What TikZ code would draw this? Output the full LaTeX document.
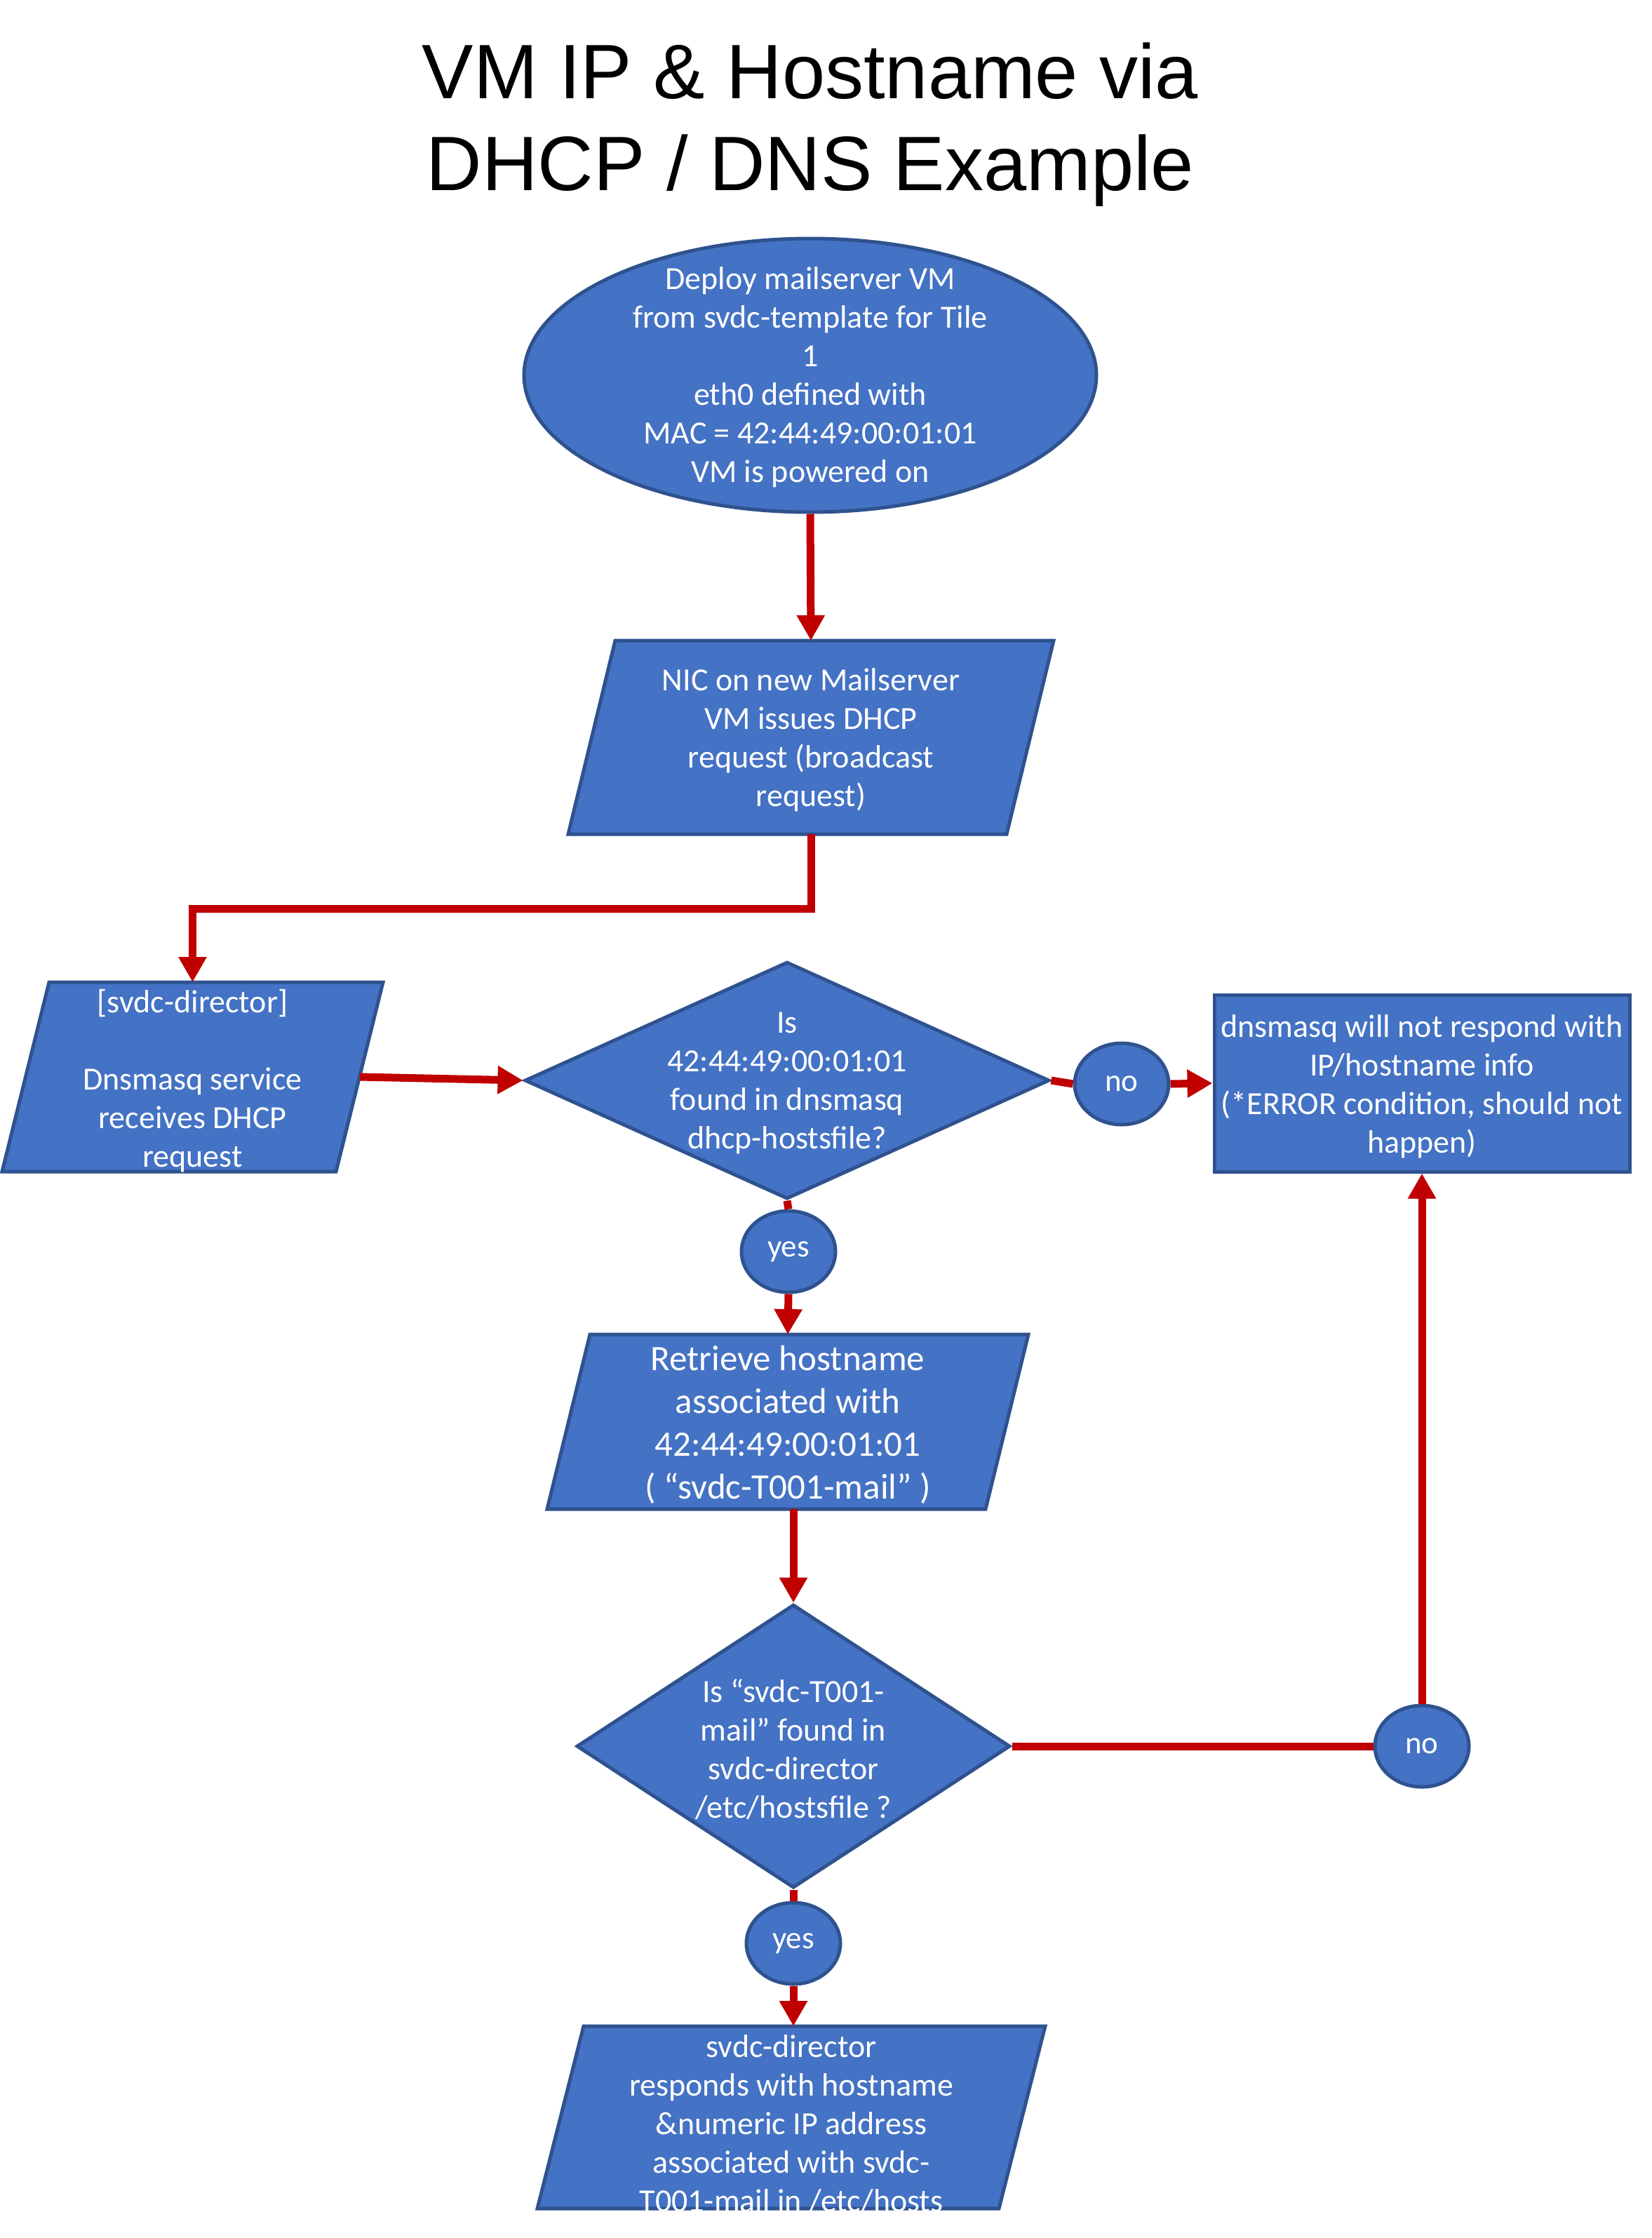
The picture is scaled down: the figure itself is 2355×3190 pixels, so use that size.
\documentclass[tikz,border=0pt]{standalone}
\usepackage{fontspec}
\setmainfont{Carlito}
\newfontfamily\titlefont{Liberation Sans}
\usetikzlibrary{shapes.geometric, arrows.meta, calc}
\definecolor{fillblue}{HTML}{4472C4}
\definecolor{edgeblue}{HTML}{2F528F}
\definecolor{flowred}{HTML}{C00000}
\begin{document}
\begin{tikzpicture}[x=1pt,y=-1pt,
  shp/.style={fill=fillblue, draw=edgeblue, line width=5pt},
  bbox/.style={draw=none, inner sep=0pt, outer sep=0pt, rectangle},
  txt/.style={text=white, font=\fontsize{46}{55}\selectfont, align=center, inner sep=0pt},
  oval/.style={shp, ellipse, inner sep=0pt, minimum width=134pt, minimum height=116pt, text=white, font=\fontsize{45}{55}\selectfont},
  flow/.style={draw=flowred, line width=11pt},
  arr/.style={flow, -{Triangle[length=36pt,width=38pt]}},
]
\fill[white] (0,0) rectangle (2355,3190);
\useasboundingbox (0,0) rectangle (2355,3190);

% title
\node[font=\titlefont\fontsize{110}{131}\selectfont, align=center, inner sep=0pt] (title) at (1155,178) {VM IP \& Hostname via\\DHCP / DNS Example};

% start ellipse
\node[shp, ellipse, minimum width=816pt, minimum height=390pt, inner sep=0pt] (start) at (1155,535) {};
\node[txt] (tstart) at (1155,538) {Deploy mailserver VM\\from svdc-template for Tile\\1\\eth0 defined with\\MAC = 42:44:49:00:01:01\\VM is powered on};

% NIC parallelogram
\node[bbox, minimum width=692pt, minimum height=276pt] (nic) at (1156,1051) {};
\path[shp] ([xshift=67pt]nic.north west) -- (nic.north east) -- ([xshift=-67pt]nic.south east) -- (nic.south west) -- cycle;
\node[txt] (tnic) at (1156,1055) {NIC on new Mailserver\\VM issues DHCP\\request (broadcast\\request)};

% svdc-director parallelogram
\node[bbox, minimum width=543pt, minimum height=270pt] (dir) at (274.5,1535) {};
\path[shp] ([xshift=67pt]dir.north west) -- (dir.north east) -- ([xshift=-67pt]dir.south east) -- (dir.south west) -- cycle;
\node[txt] (tdir) at (274.5,1541) {[svdc-director]\\[55pt]Dnsmasq service\\receives DHCP\\request};

% decision 1
\node[shp, diamond, minimum width=748pt, minimum height=338pt, inner sep=0pt] (d1) at (1122,1540) {};
\node[txt] (td1) at (1122,1544) {Is\\42:44:49:00:01:01\\found in dnsmasq\\dhcp-hostsfile?};

% no 1
\node[oval] (no1) at (1599,1545) {no};

% error box
\node[shp, rectangle, minimum width=592pt, minimum height=252pt, inner sep=0pt] (err) at (2027,1544) {};
\node[txt] (terr) at (2027,1549) {dnsmasq will not respond with\\IP/hostname info\\(*ERROR condition, should not\\happen)};

% yes 1
\node[oval] (yes1) at (1124,1784) {yes};

% retrieve parallelogram
\node[bbox, minimum width=686pt, minimum height=249pt] (ret) at (1123,2026.5) {};
\path[shp] ([xshift=61pt]ret.north west) -- (ret.north east) -- ([xshift=-61pt]ret.south east) -- (ret.south west) -- cycle;
\node[txt, font=\fontsize{51}{61}\selectfont] (tret) at (1123,2031) {Retrieve hostname\\associated with\\42:44:49:00:01:01\\( “svdc-T001-mail” )};

% decision 2
\node[shp, diamond, minimum width=618pt, minimum height=404pt, inner sep=0pt] (d2) at (1131,2489) {};
\node[txt] (td2) at (1131,2493) {Is “svdc-T001-\\mail” found in\\svdc-director\\/etc/hostsfile ?};

% no 2, yes 2
\node[oval] (no2) at (2027,2489) {no};
\node[oval] (yes2) at (1131,2770) {yes};

% final parallelogram
\node[bbox, minimum width=724pt, minimum height=260pt] (fin) at (1128,3018) {};
\path[shp] ([xshift=66pt]fin.north west) -- (fin.north east) -- ([xshift=-66pt]fin.south east) -- (fin.south west) -- cycle;
\node[txt] (tfin) at (1128,3027) {svdc-director\\responds with hostname\\\&numeric IP address\\associated with svdc-\\T001-mail in /etc/hosts};

% connectors
\draw[arr] (start.south) -- (nic.north);
\draw[arr] (nic.south) -- ++(0,106) -| (dir.north);
\draw[arr] ([xshift=-33pt]dir.east) -- (d1.west);
\draw[flow] (d1.east) -- (no1.west);
\draw[arr] (no1.east) -- (err.west);
\draw[flow] (d1.south) -- (yes1.north);
\draw[arr] (yes1.south) -- (ret.north);
\draw[arr] (ret.south -| d2.north) -- (d2.north);
\draw[flow] (d2.east) -- (no2.west);
\draw[arr] (no2.north) -- (err.south);
\draw[flow] (d2.south) -- (yes2.north);
\draw[arr] (yes2.south) -- (yes2.south |- fin.north);
\end{tikzpicture}
\end{document}
